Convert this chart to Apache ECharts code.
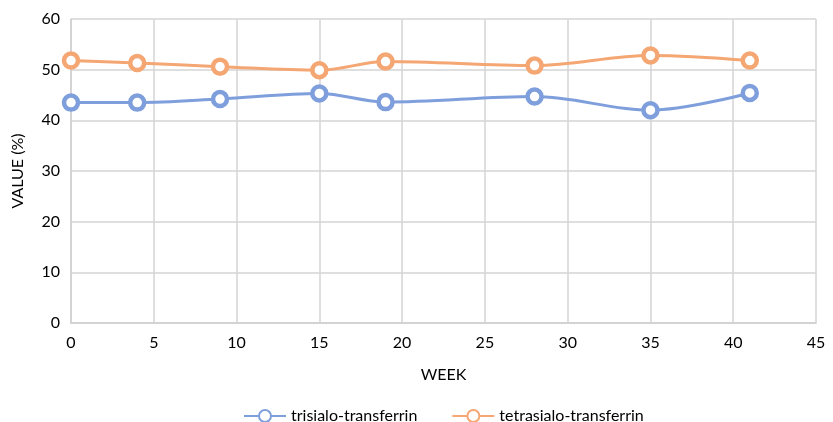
<!DOCTYPE html>
<html>
<head>
<meta charset="utf-8">
<script src="https://cdn.jsdelivr.net/npm/echarts@6/dist/echarts.min.js"></script>
<style>
  html, body { margin: 0; padding: 0; background: #fff; }
  #chart { width: 833px; height: 422px; }
</style>
</head>
<body>
<div id="chart"></div>
<script>
// Weeks sampled
const weeks = [0, 4, 9, 15, 19, 28, 35, 41];
// Isoform shares (%)
const trisialo = [43.5, 43.5, 44.2, 45.3, 43.6, 44.7, 42.0, 45.4];
const tetrasialo = [51.8, 51.3, 50.6, 49.9, 51.6, 50.8, 52.8, 51.8];

const blue = '#7f9fdc';
const orange = '#f4a673';
const font = 'Lato, "Open Sans", sans-serif';

function pairs(xs, ys) { return xs.map((x, i) => [x, ys[i]]); }

function series(name, values, color) {
  return {
    name: name,
    type: 'line',
    smooth: 0.35,
    data: pairs(weeks, values),
    symbol: 'circle',
    symbolSize: 14,
    lineStyle: { color: color, width: 3 },
    itemStyle: { color: '#ffffff', borderColor: color, borderWidth: 4.5 },
    emphasis: { disabled: true }
  };
}

const chart = echarts.init(document.getElementById('chart'));
chart.setOption({
  animation: false,
  grid: { left: 71, right: 17, top: 19, bottom: 99 },
  xAxis: {
    type: 'value', min: 0, max: 45, interval: 5,
    name: 'WEEK', nameLocation: 'middle', nameGap: 44,
    nameTextStyle: { fontFamily: font, fontSize: 16, color: '#000' },
    axisLine: { show: true, lineStyle: { color: '#d0d0d0', width: 1.5 } },
    axisTick: { show: false },
    axisLabel: { fontFamily: font, fontSize: 16, color: '#000', margin: 12 },
    splitLine: { show: true, lineStyle: { color: '#d4d4d4', width: 1.5 } }
  },
  yAxis: {
    type: 'value', min: 0, max: 60, interval: 10,
    name: 'VALUE (%)', nameLocation: 'middle', nameGap: 45, nameRotate: 90,
    nameTextStyle: { fontFamily: font, fontSize: 16, color: '#000' },
    axisLine: { show: true, lineStyle: { color: '#d0d0d0', width: 1.5 } },
    axisTick: { show: false },
    axisLabel: { fontFamily: font, fontSize: 16, color: '#000', margin: 11 },
    splitLine: { show: true, lineStyle: { color: '#d4d4d4', width: 1.5 } }
  },
  legend: {
    top: 403, left: 238, itemGap: 34, itemWidth: 42, itemHeight: 15,
    textStyle: { fontFamily: font, fontSize: 16, color: '#000' },
    data: ['trisialo-transferrin', 'tetrasialo-transferrin']
  },
  series: [
    series('trisialo-transferrin', trisialo, blue),
    series('tetrasialo-transferrin', tetrasialo, orange)
  ]
});
</script>
</body>
</html>
